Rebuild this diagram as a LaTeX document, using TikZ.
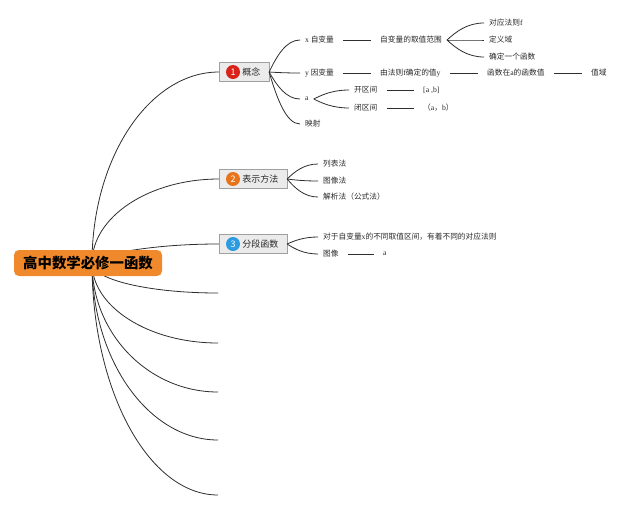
\documentclass[tikz,border=0pt]{standalone}
\usepackage{fontspec}
\setmainfont{Noto Sans CJK SC}
\newfontfamily\lat{Liberation Serif}
\usetikzlibrary{calc,backgrounds}
\definecolor{rootc}{HTML}{F0892C}
\definecolor{boxfill}{HTML}{EBEBEB}
\definecolor{boxdraw}{HTML}{A0A0A0}
\definecolor{bred}{HTML}{D9231A}
\definecolor{borange}{HTML}{E8731A}
\definecolor{bblue}{HTML}{2D9BE0}
\definecolor{linec}{HTML}{2E2E2E}
\definecolor{textc}{HTML}{2A2A2A}
\tikzset{
  br/.style={to path={let \p1=(\tikztostart), \p2=(\tikztotarget) in
      .. controls (\x1,{\y1+0.55*(\y2-\y1)}) and ({\x2-0.55*(\x2-\x1)},\y2) .. (\tikztotarget)}},
  fan/.style={to path={let \p1=(\tikztostart), \p2=(\tikztotarget) in
      .. controls ({\x1+0.25*(\x2-\x1)},{\y1+0.5*(\y2-\y1)}) and ({\x2-0.45*(\x2-\x1)},\y2) .. (\tikztotarget)}},
  conn/.style={draw=linec, line width=0.8pt},
  seg/.style={draw=linec, line width=1pt, shorten <=4pt, shorten >=4pt},
  leaf/.style={anchor=west, inner xsep=5pt, inner ysep=1pt, text=textc,
      font=\fontsize{7.7}{9}\selectfont},
  topic/.style={anchor=west, draw=boxdraw, fill=boxfill, line width=0.6pt,
      minimum height=19pt, inner xsep=8.5pt, inner ysep=0pt, text=textc,
      font=\fontsize{9}{10}\selectfont},
  badge/.style={circle, inner sep=0pt, minimum size=14pt, text=white,
      font=\fontsize{9}{10}\selectfont},
  rootbox/.style={fill=rootc, rounded corners=5pt, minimum width=148pt,
      minimum height=26pt, inner sep=0pt, text=black,
      font=\fontsize{14.4}{16}\selectfont\bfseries}
}
\begin{document}
\begin{tikzpicture}[x=1pt,y=-1pt]
\path[use as bounding box] (0,0) rectangle (640,509);

% root
\node[rootbox] (root) at (88,263) {高中数学必修一函数};
\coordinate (rc) at (92,263);
\coordinate (rc3) at (100,256);

% main topics
\node[topic] (b1) at (219,72) {\hspace{14.5pt}概念};
\node[topic] (b2) at (219,179) {\hspace{14.5pt}表示方法};
\node[topic] (b3) at (219,244) {\hspace{14.5pt}分段函数};
\node[badge, fill=bred] (k1) at ($(b1.west)+(14,0)$) {1};
\node[badge, fill=borange] (k2) at ($(b2.west)+(14,0)$) {2};
\node[badge, fill=bblue] (k3) at ($(b3.west)+(14,0)$) {3};

% empty branch ends
\coordinate (e1) at (218,293);
\coordinate (e2) at (218,343);
\coordinate (e3) at (218,392);
\coordinate (e4) at (218,440);
\coordinate (e5) at (218,495);

% topic 1 children
\node[leaf] (x1) at (300,40) {{\lat x} 自变量};
\node[leaf] (x2) at (375,40) {自变量的取值范围};
\node[leaf] (f1) at (484,23) {对应法则{\lat f}};
\node[leaf] (f2) at (484,40) {定义域};
\node[leaf] (f3) at (484,57) {确定一个函数};
\node[leaf] (y1) at (300,73) {{\lat y} 因变量};
\node[leaf] (y2) at (375,73) {由法则{\lat f}确定的值{\lat y}};
\node[leaf] (y3) at (482,73) {函数在{\lat a}的函数值};
\node[leaf] (y4) at (586,73) {值域};
\node[leaf] (a1) at (300,99) {\lat a};
\node[leaf] (o1) at (349,90) {开区间};
\node[leaf] (o2) at (418,90) {\lat [a ,b]};
\node[leaf] (c1) at (349,108) {闭区间};
\node[leaf] (c2) at (418,108) {（{\lat a}，{\lat b}）};
\node[leaf] (m1) at (300,124) {映射};

% topic 2 children
\node[leaf] (t1) at (318,164) {列表法};
\node[leaf] (t2) at (318,181) {图像法};
\node[leaf] (t3) at (318,197) {解析法（公式法）};

% topic 3 children
\node[leaf] (p1) at (318,237) {对于自变量{\lat x}的不同取值区间，有着不同的对应法则};
\node[leaf] (p2) at (318,254) {图像};
\node[leaf] (p3) at (378,254) {\lat a};

\begin{scope}[on background layer]
  \fill[white] (0,0) rectangle (640,509);
  \draw[conn] (rc) to[br] (b1.west);
  \draw[conn] (rc) to[br] (b2.west);
  \draw[conn] (rc3) to[fan] (b3.west);
  \foreach \e in {e1,e2,e3,e4,e5} \draw[conn] (rc) to[br] (\e);
\end{scope}

\foreach \c in {x1,y1,a1,m1} \draw[conn] (b1.east) to[fan] (\c.west);
\foreach \c in {f1,f2,f3} \draw[conn] (x2.east) to[fan] (\c.west);
\foreach \c in {o1,c1} \draw[conn] (a1.east) to[fan] (\c.west);
\foreach \c in {t1,t2,t3} \draw[conn] (b2.east) to[fan] (\c.west);
\foreach \c in {p1,p2} \draw[conn] (b3.east) to[fan] (\c.west);

\draw[seg] (x1.east) -- (x2.west);
\draw[seg] (y1.east) -- (y2.west);
\draw[seg] (y2.east) -- (y3.west);
\draw[seg] (y3.east) -- (y4.west);
\draw[seg] (o1.east) -- (o2.west);
\draw[seg] (c1.east) -- (c2.west);
\draw[seg] (p2.east) -- (p3.west);
\end{tikzpicture}
\end{document}
